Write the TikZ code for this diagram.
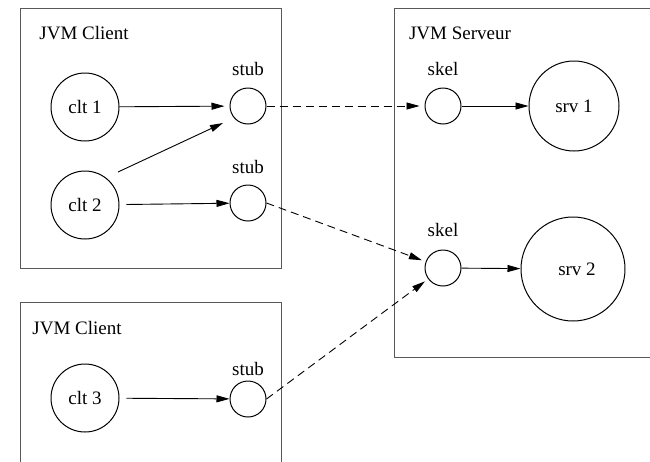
\documentclass[tikz,border=0pt]{standalone}
\usepackage{fontspec}
\setmainfont{Liberation Serif}
\usetikzlibrary{arrows.meta}
\begin{document}
\begin{tikzpicture}[x=1pt,y=-1pt,
  every node/.style={font=\fontsize{19}{22}\selectfont},
  big/.style={circle,draw,line width=1pt,minimum size=68pt,inner sep=0pt},
  small/.style={circle,draw,line width=1pt,minimum size=36pt,inner sep=0pt},
  vm/.style={draw=black!65,line width=1pt},
  lbl/.style={inner sep=0pt},
  link/.style={line width=0.9pt,-{Triangle[length=13pt,width=7pt]}},
  remote/.style={link,dash pattern=on 8pt off 5pt}]
\useasboundingbox (0,0) rectangle (650,461);
\begin{scope}
\clip (0,0) rectangle (650,461);
\draw[vm] (20,8) rectangle (281,268);
\draw[vm] (20,302) rectangle (281,475);
\draw[vm] (394,8) rectangle (665,357);
\end{scope}
\node[lbl] (jc1) at (84,33) {JVM Client};
\node[lbl] (jc2) at (77,328) {JVM Client};
\node[lbl] (js) at (460,33) {JVM Serveur};
\node[big] (clt1) at (85,107) {clt 1};
\node[big] (clt2) at (85,205) {clt 2};
\node[big] (clt3) at (85,398) {clt 3};
\node[small] (stub1) at (248,106) {};
\node[small] (stub2) at (248,203) {};
\node[small] (stub3) at (248,399) {};
\node[lbl] (ls1) at (248,69) {stub};
\node[lbl] (ls2) at (248,167) {stub};
\node[lbl] (ls3) at (248,369) {stub};
\node[small] (skel1) at (443,106) {};
\node[small] (skel2) at (443,268) {};
\node[lbl] (lk1) at (443,69) {skel};
\node[lbl] (lk2) at (443,230) {skel};
\node[circle,draw,line width=1pt,minimum size=90pt,inner sep=0pt] (srv1) at (574,106) {srv 1};
\node[circle,draw,line width=1pt,minimum size=104pt,inner sep=0pt] (srv2) at (573,269) {\hspace*{8pt}srv 2};
\draw[link,shorten >=5pt] (clt1) -- (stub1);
\draw[link] ([shift={(33,-33)}]clt2.center) -- ([shift={(-25,17)}]stub1.center);
\draw[link,shorten <=7pt] (clt2) -- (stub2);
\draw[link,shorten <=7pt] (clt3) -- (stub3);
\draw[remote,shorten >=5pt] (stub1) -- (skel1);
\draw[remote,shorten >=4pt] (stub2.east) -- (skel2);
\draw[remote,shorten >=4pt] (stub3.east) -- (skel2);
\draw[link] (skel1) -- (srv1);
\draw[link] (skel2) -- (srv2);
\end{tikzpicture}
\end{document}
